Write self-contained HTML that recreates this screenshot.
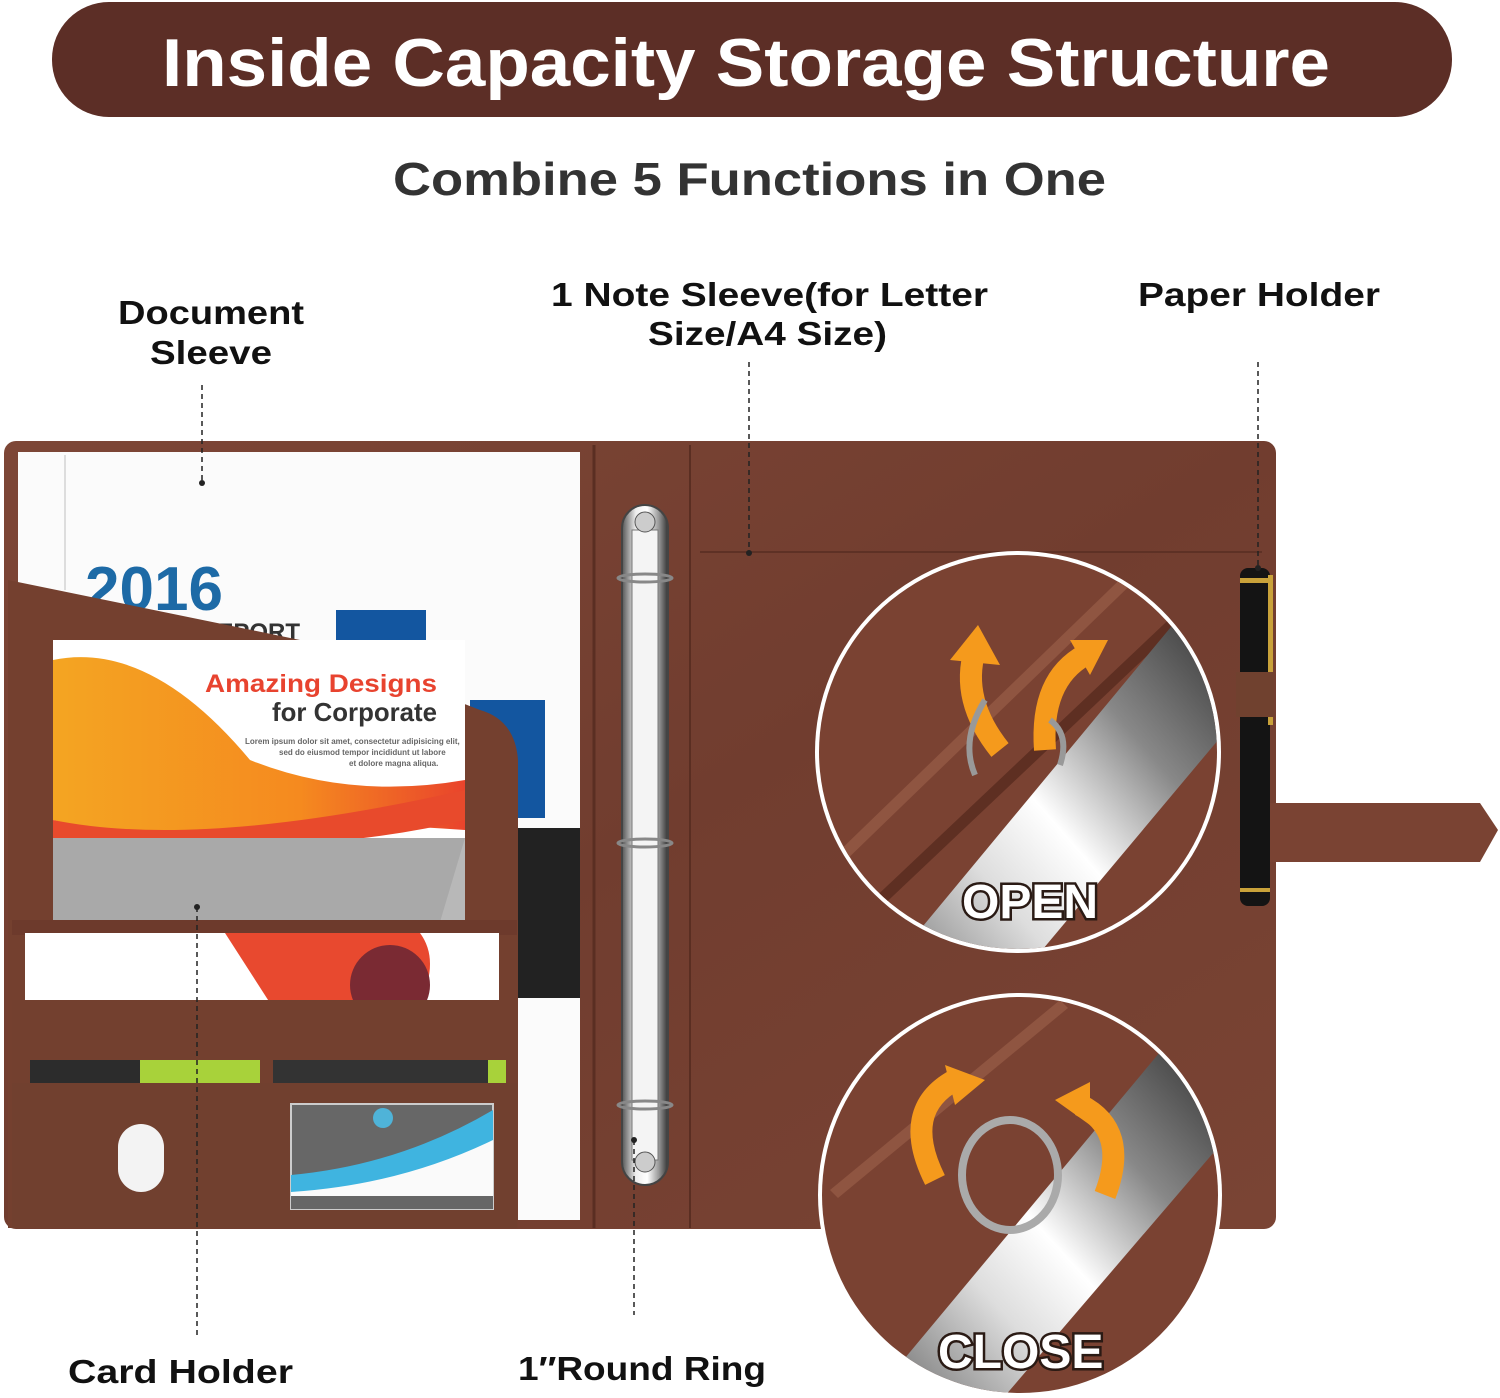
<!DOCTYPE html>
<html><head><meta charset="utf-8"><style>
html,body{margin:0;padding:0;background:#fff;}
svg{display:block;}
text{font-family:"Liberation Sans",sans-serif;font-weight:bold;}
</style></head><body>
<svg width="1500" height="1398" viewBox="0 0 1500 1398" xmlns="http://www.w3.org/2000/svg">
<defs>
<linearGradient id="leather" x1="0" y1="0" x2="1" y2="1">
<stop offset="0" stop-color="#7d4636"/><stop offset="0.5" stop-color="#713d2f"/><stop offset="1" stop-color="#7a4434"/>
</linearGradient>
<linearGradient id="metal" x1="0" y1="0" x2="1" y2="0">
<stop offset="0" stop-color="#555"/><stop offset="0.3" stop-color="#eee"/><stop offset="0.55" stop-color="#fff"/><stop offset="0.8" stop-color="#999"/><stop offset="1" stop-color="#333"/>
</linearGradient>
<linearGradient id="metal2" x1="0" y1="1" x2="1" y2="0">
<stop offset="0" stop-color="#444"/><stop offset="0.35" stop-color="#ddd"/><stop offset="0.5" stop-color="#fff"/><stop offset="0.7" stop-color="#888"/><stop offset="1" stop-color="#222"/>
</linearGradient>
<linearGradient id="orange" x1="0" y1="0" x2="1" y2="0">
<stop offset="0" stop-color="#f4a522"/><stop offset="0.6" stop-color="#f58a1f"/><stop offset="1" stop-color="#e9442c"/>
</linearGradient>
<clipPath id="c1"><ellipse cx="1018" cy="752" rx="199" ry="197"/></clipPath>
<clipPath id="c2"><circle cx="1020" cy="1195" r="198"/></clipPath>
</defs>

<rect x="52" y="2" width="1400" height="115" rx="57" fill="#5c2e26"/>
<text x="162" y="86" font-size="68" fill="#fff" textLength="1168" lengthAdjust="spacingAndGlyphs">Inside Capacity Storage Structure</text>
<text x="393" y="195" font-size="46" fill="#333" textLength="713" lengthAdjust="spacingAndGlyphs">Combine 5 Functions in One</text>

<g font-size="33" fill="#111">
<text x="118" y="324" textLength="186" lengthAdjust="spacingAndGlyphs">Document</text>
<text x="150" y="364" textLength="122" lengthAdjust="spacingAndGlyphs">Sleeve</text>
<text x="551" y="306" textLength="437" lengthAdjust="spacingAndGlyphs">1 Note Sleeve(for Letter</text>
<text x="648" y="345" textLength="239" lengthAdjust="spacingAndGlyphs">Size/A4 Size)</text>
<text x="1138" y="306" textLength="242" lengthAdjust="spacingAndGlyphs">Paper Holder</text>
<text x="68" y="1383" textLength="225" lengthAdjust="spacingAndGlyphs">Card Holder</text>
<text x="518" y="1380" textLength="248" lengthAdjust="spacingAndGlyphs">1″Round Ring</text>
</g>

<rect x="4" y="441" width="1272" height="788" rx="12" fill="url(#leather)"/>
<path d="M1270 803 L1480 803 L1498 830 L1480 862 L1270 862 Z" fill="#7a4333"/>
<line x1="594" y1="445" x2="594" y2="1228" stroke="#5a2e22" stroke-width="3"/>
<line x1="690" y1="445" x2="690" y2="1228" stroke="#5a2e22" stroke-width="2"/>
<line x1="700" y1="552" x2="1262" y2="552" stroke="#5e3125" stroke-width="2"/>

<rect x="18" y="452" width="562" height="768" fill="#fbfbfb"/>
<line x1="65" y1="455" x2="65" y2="590" stroke="#ddd" stroke-width="2"/>
<text x="85" y="610" font-size="62" fill="#1d6aa6">2016</text>
<text x="200" y="640" font-size="24" fill="#333">REPORT</text>
<rect x="336" y="610" width="90" height="40" fill="#1356a0"/>
<rect x="470" y="700" width="75" height="118" fill="#1356a0"/>
<rect x="518" y="828" width="62" height="170" fill="#222"/>
<path d="M8 580 L300 640 L480 710 Q515 720 518 760 L518 1228 L8 1228 Z" fill="#74402f"/>
<rect x="53" y="640" width="412" height="282" fill="#fff"/>
<path d="M53 660 Q150 640 250 760 Q350 800 465 780 L465 830 Q330 820 240 830 Q130 840 53 820 Z" fill="url(#orange)"/>
<path d="M53 820 Q200 850 465 790 L465 820 Q300 860 53 840Z" fill="#e84a2c"/>
<rect x="53" y="838" width="412" height="84" fill="#b8b8b8"/>
<path d="M53 838 L465 838 L440 922 L53 922Z" fill="#a9a9a9"/>
<text x="205" y="692" font-size="25" fill="#e8432f" textLength="232" lengthAdjust="spacingAndGlyphs">Amazing Designs</text>
<text x="272" y="721" font-size="26" fill="#333" font-weight="normal" textLength="165" lengthAdjust="spacingAndGlyphs">for Corporate</text>
<text x="245" y="744" font-size="8" fill="#666" font-weight="normal">Lorem ipsum dolor sit amet, consectetur adipisicing elit,</text>
<text x="279" y="755" font-size="8" fill="#666" font-weight="normal">sed do eiusmod tempor incididunt ut labore</text>
<text x="349" y="766" font-size="8" fill="#666" font-weight="normal">et dolore magna aliqua.</text>
<rect x="12" y="920" width="505" height="15" fill="#6d3a2c"/>
<rect x="25" y="933" width="474" height="70" fill="#fff"/>
<path d="M225 933 L420 933 Q440 960 420 1003 L270 1003 Z" fill="#e8492f"/>
<circle cx="390" cy="985" r="40" fill="#7a2a33"/>
<rect x="12" y="1000" width="505" height="228" fill="#73402f"/>
<rect x="30" y="1060" width="230" height="24" fill="#2c2c2c"/>
<rect x="140" y="1060" width="120" height="24" fill="#a8d23a"/>
<rect x="273" y="1060" width="232" height="24" fill="#333"/>
<rect x="488" y="1060" width="18" height="24" fill="#a8d23a"/>
<rect x="12" y="1083" width="505" height="145" fill="#71402f"/>
<rect x="118" y="1124" width="46" height="68" rx="23" fill="#f3f3f3"/>
<rect x="291" y="1104" width="202" height="105" fill="#676767" stroke="#ccc" stroke-width="2"/>
<path d="M291 1175 Q400 1165 493 1110 L493 1209 L291 1209Z" fill="#3fb4e0"/>
<path d="M291 1192 Q400 1185 493 1140 L493 1209 L291 1209Z" fill="#fafafa"/>
<rect x="291" y="1196" width="202" height="13" fill="#666"/>
<circle cx="383" cy="1118" r="10" fill="#4fb3d8"/>

<rect x="622" y="505" width="46" height="680" rx="23" fill="url(#metal)" stroke="#444" stroke-width="2"/>
<rect x="632" y="530" width="26" height="630" fill="#f4f4f4" stroke="#777" stroke-width="1"/>
<circle cx="645" cy="522" r="10" fill="#ccc" stroke="#555"/>
<circle cx="645" cy="1162" r="10" fill="#ccc" stroke="#555"/>
<g fill="none" stroke="#888" stroke-width="3">
<ellipse cx="645" cy="578" rx="27" ry="4"/><ellipse cx="645" cy="843" rx="27" ry="4"/><ellipse cx="645" cy="1105" rx="27" ry="4"/>
</g>

<rect x="1240" y="568" width="30" height="338" rx="8" fill="#141414"/>
<rect x="1240" y="578" width="30" height="5" fill="#c9a23a"/>
<rect x="1240" y="888" width="30" height="4" fill="#c9a23a"/>
<rect x="1268" y="575" width="5" height="150" fill="#c9a23a"/>
<rect x="1236" y="672" width="38" height="45" fill="#70412f"/>

<ellipse cx="1018" cy="752" rx="203" ry="201" fill="#fff"/>
<g clip-path="url(#c1)">
<rect x="800" y="540" width="440" height="430" fill="#7a4232"/>
<path d="M830 860 L1140 560 L1148 568 L838 868Z" fill="#8f5541"/>
<path d="M830 940 L1200 590 L1208 598 L838 948Z" fill="#5e2f22"/>
<path d="M870 990 L1185 610 L1260 690 L950 1060 Z" fill="url(#metal2)"/>
<path d="M1000 750 Q960 700 975 650" fill="none" stroke="#f59a1c" stroke-width="22"/>
<path d="M950 660 L978 625 L1000 665 Z" fill="#f59a1c"/>
<path d="M1045 750 Q1040 680 1085 655" fill="none" stroke="#f59a1c" stroke-width="22"/>
<path d="M1070 640 L1108 640 L1090 675 Z" fill="#f59a1c"/>
<path d="M985 700 Q960 740 975 775 M1060 765 Q1070 735 1050 720" fill="none" stroke="#999" stroke-width="6"/>
<text x="962" y="918" font-size="48" fill="#fff" stroke="#2a1a14" stroke-width="5" paint-order="stroke">OPEN</text>
</g>

<circle cx="1020" cy="1195" r="202" fill="#fff"/>
<g clip-path="url(#c2)">
<rect x="810" y="990" width="420" height="410" fill="#7a4232"/>
<path d="M830 1190 L1060 1000 L1068 1008 L838 1198Z" fill="#8f5541"/>
<path d="M870 1400 L1170 1040 L1250 1110 L950 1460 Z" fill="url(#metal2)"/>
<ellipse cx="1010" cy="1175" rx="48" ry="55" fill="none" stroke="#aaa" stroke-width="8"/>
<path d="M935 1180 Q900 1110 955 1080" fill="none" stroke="#f59a1c" stroke-width="22"/>
<path d="M945 1065 L985 1080 L955 1105 Z" fill="#f59a1c"/>
<path d="M1105 1195 Q1130 1130 1080 1105" fill="none" stroke="#f59a1c" stroke-width="22"/>
<path d="M1055 1100 L1090 1082 L1090 1125 Z" fill="#f59a1c"/>
<text x="938" y="1368" font-size="48" fill="#fff" stroke="#2a1a14" stroke-width="5" paint-order="stroke">CLOSE</text>
</g>

<g stroke="#222" stroke-width="1.5" stroke-dasharray="5,4" fill="none">
<line x1="202" y1="385" x2="202" y2="482"/>
<line x1="749" y1="362" x2="749" y2="552"/>
<line x1="1258" y1="362" x2="1258" y2="568"/>
<line x1="197" y1="907" x2="197" y2="1337"/>
<line x1="634" y1="1140" x2="634" y2="1315"/>
</g>
<g fill="#222">
<circle cx="202" cy="483" r="3"/><circle cx="749" cy="553" r="3"/><circle cx="1258" cy="568" r="3"/>
<circle cx="197" cy="907" r="3"/><circle cx="634" cy="1140" r="3"/>
</g>
</svg>
</body></html>
